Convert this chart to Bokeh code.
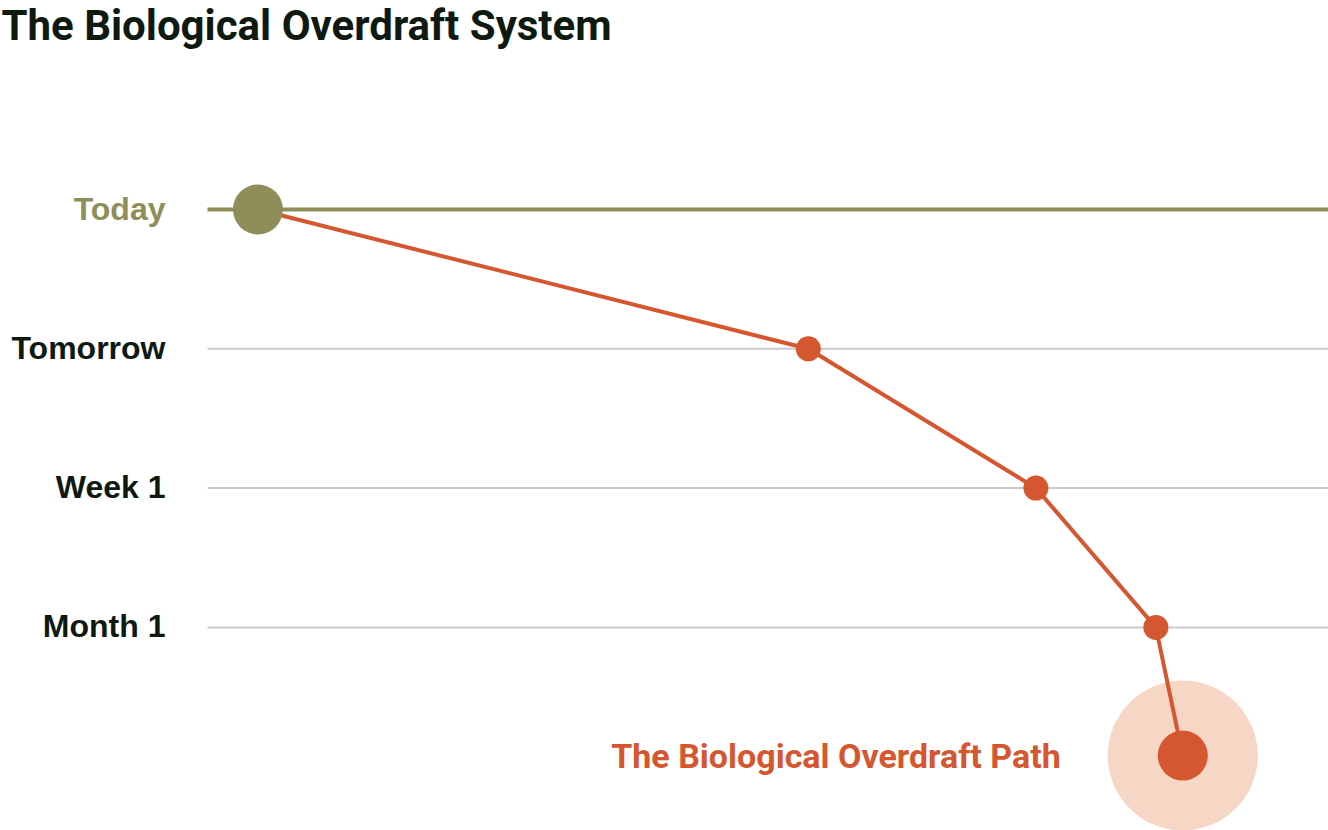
from bokeh.plotting import figure
from bokeh.models import Range1d, ColumnDataSource
from bokeh.core.properties import value
from bokeh.embed import file_html
from bokeh.resources import INLINE

# ---- data ----
title_text = "The Biological Overdraft System"
stages = ["Today", "Tomorrow", "Week 1", "Month 1"]
stage_level = [0, 1, 2, 3]
path_x = [4.5, 53.6, 73.9, 84.6, 87.0]
path_y = [0, 1, 2, 3, 3.92]
path_label = "The Biological Overdraft Path"

# ---- styles ----
OLIVE = "#8f8e58"
ORANGE = "#d4572f"
HALO = "#f6d6c4"
GRID = "#c9c8d2"
DARK = "#0e1a10"
TITLE_FONT = value("Roboto")
LABEL_FONT = value("Liberation Sans")

W, H = 1328, 830
left_px = 207          # where data x=0 sits
x_end = 100.0
px_per_x = (W - left_px) / x_end
x_start = -left_px / px_per_x

top_px = 209           # where level 0 sits
px_per_y = 139.3
y_top = -top_px / px_per_y
y_bottom = (H - top_px) / px_per_y

p = figure(width=W, height=H, output_backend="svg", toolbar_location=None,
           x_range=Range1d(x_start, x_end), y_range=Range1d(y_bottom, y_top),
           min_border=0, min_border_left=0, min_border_right=0,
           min_border_top=0, min_border_bottom=0)
p.axis.visible = False
p.grid.visible = False
p.outline_line_color = None
p.background_fill_color = "white"
p.border_fill_color = "white"

# grid lines for stages after today
p.segment(x0=[0] * 3, x1=[x_end] * 3, y0=stage_level[1:], y1=stage_level[1:],
          line_color=GRID, line_width=2)
# today baseline
p.segment(x0=[0], x1=[x_end], y0=[stage_level[0]], y1=[stage_level[0]],
          line_color=OLIVE, line_width=4)

# halo around final point
p.scatter(x=[path_x[-1]], y=[path_y[-1]], size=150, fill_color=HALO, line_color=None)

# path line
p.line(x=path_x, y=path_y, line_color=ORANGE, line_width=4)

# intermediate markers
p.scatter(x=path_x[1:4], y=path_y[1:4], size=25, fill_color=ORANGE, line_color=None)
# final marker
p.scatter(x=[path_x[-1]], y=[path_y[-1]], size=50, fill_color=ORANGE, line_color=None)
# today marker
p.scatter(x=[path_x[0]], y=[path_y[0]], size=50, fill_color=OLIVE, line_color=None)

# stage labels
src = ColumnDataSource(dict(x=[0] * 4, y=stage_level, t=stages,
                            c=[OLIVE, DARK, DARK, DARK]))
p.text(x="x", y="y", text="t", source=src, text_color="c", text_font=LABEL_FONT,
       text_font_style="bold", text_font_size="32px", text_align="right",
       text_baseline="middle", x_offset=-42, y_offset=-1)

# path label
p.text(x=[path_x[-1]], y=[path_y[-1]], text=[path_label], text_color=ORANGE,
       text_font=TITLE_FONT, text_font_style="bold", text_font_size="34px",
       text_align="right", text_baseline="middle", x_offset=-122, y_offset=0)

# title
p.text(x=[x_start], y=[y_top], text=[title_text], text_color=DARK,
       text_font=TITLE_FONT, text_font_style="bold", text_font_size="42px",
       text_align="left", text_baseline="top", x_offset=1, y_offset=0)

open("out.html", "w").write(file_html(p, INLINE))
